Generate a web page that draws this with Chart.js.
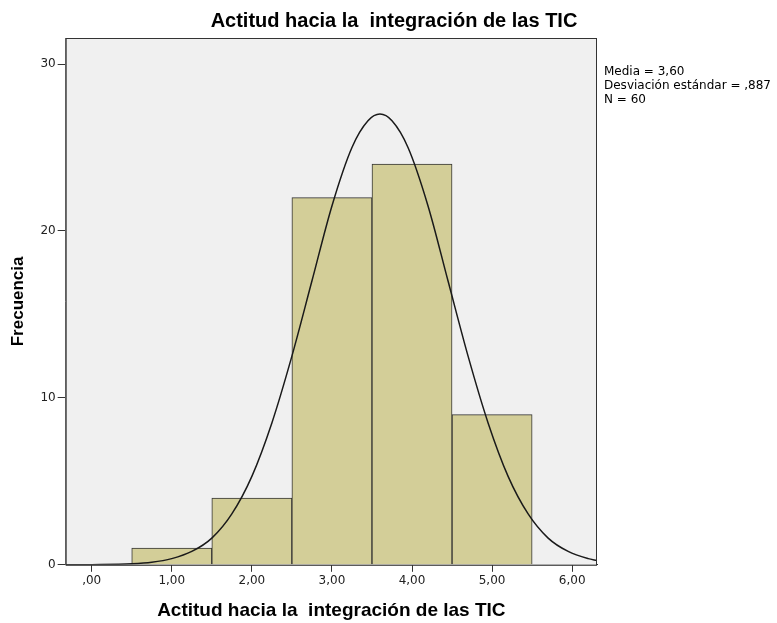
<!DOCTYPE html>
<html>
<head>
<meta charset="utf-8">
<script src="https://cdn.jsdelivr.net/npm/chart.js@4/dist/chart.umd.min.js"></script>
<style>
  body { margin: 0; background: #fff; }
</style>
</head>
<body>
<canvas id="histChart" width="777" height="623"></canvas>
<script>
// bins of the histogram (centres) and their counts
const binCenters = [1, 2, 3, 4, 5];
const frequencies = [1, 4, 22, 24, 9];

// normal curve
const curveX = [-0.32, 0, 0.5, 0.75, 1, 1.25, 1.5, 1.75, 2, 2.25, 2.5, 2.75, 3, 3.25, 3.45, 3.6, 3.75, 3.95, 4.2, 4.45, 4.7, 4.95, 5.2, 5.45, 5.7, 5.95, 6.2, 6.31];
const curveY = [0, 0.01, 0.06, 0.15, 0.37, 0.8, 1.6, 3.05, 5.3, 8.5, 12.5, 17, 21.5, 25, 26.6, 27, 26.6, 25, 21.5, 17, 12.5, 8.5, 5.3, 3.05, 1.6, 0.8, 0.37, 0.26];

const xTickValues = [0, 1, 2, 3, 4, 5, 6];
const xTickLabels = [",00", "1,00", "2,00", "3,00", "4,00", "5,00", "6,00"];
const yTickValues = [0, 10, 20, 30];

const statLines = ["Media = 3,60", "Desviación estándar = ,887", "N = 60"];
const titleText = "Actitud hacia la  integración de las TIC";

const sans = '"Liberation Sans", Arial, sans-serif';
const tickFont = '"DejaVu Sans", Verdana, sans-serif';

// grey plot background, frame, title and stats text on the right
const plotBox = {
  id: 'plotBox',
  beforeDatasetsDraw(chart) {
    const { ctx, chartArea: a } = chart;
    ctx.save();
    ctx.fillStyle = '#f0f0f0';
    ctx.fillRect(a.left, a.top, a.right - a.left, a.bottom - a.top);
    ctx.restore();
  },
  afterDraw(chart) {
    const { ctx, chartArea: a } = chart;
    ctx.save();
    ctx.strokeStyle = '#333';
    ctx.lineWidth = 1;
    ctx.strokeRect(a.left + 0.5, a.top + 0.5, a.right - a.left - 1, a.bottom - a.top);
    ctx.fillStyle = '#000';
    ctx.textBaseline = 'middle';
    ctx.textAlign = 'center';
    ctx.font = 'bold 20px ' + sans;
    ctx.fillText(titleText, 394, 21);
    ctx.textAlign = 'left';
    ctx.font = '12px ' + tickFont;
    statLines.forEach((t, i) => ctx.fillText(t, a.right + 7, 72 + i * 14));
    ctx.restore();
  }
};

const ctx = document.getElementById('histChart').getContext('2d');
const chart = new Chart(ctx, {
  type: 'bar',
  data: {
    datasets: [
      {
        type: 'line',
        data: curveX.map((x, i) => ({ x: x, y: curveY[i] })),
        borderColor: '#1a1a1a',
        borderWidth: 1.5,
        pointRadius: 0,
        cubicInterpolationMode: 'monotone',
        order: 0
      },
      {
        data: binCenters.map((x, i) => ({ x: x, y: frequencies[i] })),
        backgroundColor: '#d3ce98',
        borderColor: '#333',
        borderWidth: 1,
        barPercentage: 1,
        categoryPercentage: 1,
        order: 1
      }
    ]
  },
  options: {
    responsive: false,
    animation: false,
    layout: { padding: { left: 8, right: 180, top: 38, bottom: 1 } },
    plugins: {
      legend: { display: false },
      tooltip: { enabled: false },
      title: { display: false }
    },
    scales: {
      x: {
        type: 'linear',
        min: -0.325,
        max: 6.31,
        offset: false,
        afterBuildTicks: s => { s.ticks = xTickValues.map(v => ({ value: v })); },
        ticks: {
          color: '#222',
          font: { family: tickFont, size: 12 },
          maxRotation: 0,
          padding: 2,
          callback: (v) => xTickLabels[xTickValues.indexOf(v)]
        },
        grid: { drawOnChartArea: false, offset: false, tickLength: 7, color: '#333' },
        border: { color: '#333' },
        title: {
          display: true,
          text: titleText,
          color: '#000',
          font: { family: sans, size: 19, weight: 'bold' },
          padding: { top: 9, bottom: 0 }
        }
      },
      y: {
        min: 0,
        max: 31.56,
        afterBuildTicks: s => { s.ticks = yTickValues.map(v => ({ value: v })); },
        ticks: {
          color: '#222',
          font: { family: tickFont, size: 12 },
          padding: 2
        },
        grid: { drawOnChartArea: false, tickLength: 8, color: '#333' },
        border: { color: '#333' },
        title: {
          display: true,
          text: 'Frecuencia',
          color: '#000',
          font: { family: sans, size: 17, weight: 'bold' },
          padding: { top: 0, bottom: 10 }
        }
      }
    }
  },
  plugins: [plotBox]
});
</script>
</body>
</html>
